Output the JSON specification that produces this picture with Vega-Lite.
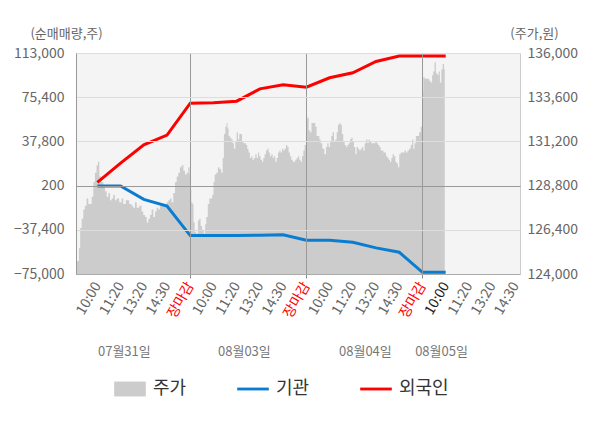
{
  "$schema": "https://vega.github.io/schema/vega-lite/v6.json",
  "width": 444,
  "height": 221,
  "autosize": "none",
  "padding": {"left": 76, "top": 53, "right": 80, "bottom": 154},
  "background": "white",
  "config": {
    "font": "Noto Sans CJK KR",
    "view": {"fill": "#f4f4f4", "stroke": null},
    "axis": {
      "labelFontSize": 14,
      "labelColor": "#666666",
      "titleFontSize": 13,
      "titleColor": "#666666",
      "titleFontWeight": "normal"
    }
  },
  "datasets": {
    "price": [
      {"t": 0.08, "price": 124700}, {"t": 0.19, "price": 124700}, {"t": 0.23, "price": 125400},
      {"t": 0.29, "price": 126500}, {"t": 0.36, "price": 127000}, {"t": 0.43, "price": 127500},
      {"t": 0.50, "price": 127700}, {"t": 0.57, "price": 128100}, {"t": 0.65, "price": 127800},
      {"t": 0.72, "price": 127800}, {"t": 0.79, "price": 128200}, {"t": 0.86, "price": 129000},
      {"t": 0.93, "price": 129500}, {"t": 1.00, "price": 129900}, {"t": 1.05, "price": 130100},
      {"t": 1.12, "price": 129300}, {"t": 1.22, "price": 129000}, {"t": 1.29, "price": 128800},
      {"t": 1.36, "price": 128500}, {"t": 1.44, "price": 128200}, {"t": 1.51, "price": 128400},
      {"t": 1.58, "price": 128000}, {"t": 1.65, "price": 128100}, {"t": 1.72, "price": 128300},
      {"t": 1.79, "price": 128000}, {"t": 1.87, "price": 128100}, {"t": 2.01, "price": 127900},
      {"t": 2.08, "price": 128100}, {"t": 2.15, "price": 127800}, {"t": 2.30, "price": 128000},
      {"t": 2.44, "price": 127800}, {"t": 2.51, "price": 127700}, {"t": 2.58, "price": 127600},
      {"t": 2.66, "price": 127900}, {"t": 2.73, "price": 127600}, {"t": 2.87, "price": 127700},
      {"t": 2.94, "price": 127400}, {"t": 3.01, "price": 127200}, {"t": 3.09, "price": 127100},
      {"t": 3.16, "price": 126800}, {"t": 3.23, "price": 127000}, {"t": 3.30, "price": 127200},
      {"t": 3.37, "price": 127500}, {"t": 3.45, "price": 127100}, {"t": 3.52, "price": 127400},
      {"t": 3.59, "price": 127600}, {"t": 3.66, "price": 127500}, {"t": 3.73, "price": 127700},
      {"t": 3.80, "price": 127800}, {"t": 3.88, "price": 127700}, {"t": 3.95, "price": 127800},
      {"t": 4.02, "price": 127900}, {"t": 4.09, "price": 128000}, {"t": 4.16, "price": 128100},
      {"t": 4.23, "price": 127900}, {"t": 4.31, "price": 128400}, {"t": 4.38, "price": 129000},
      {"t": 4.45, "price": 129300}, {"t": 4.52, "price": 129500}, {"t": 4.59, "price": 129800},
      {"t": 4.67, "price": 129900}, {"t": 4.74, "price": 129600}, {"t": 4.81, "price": 129400},
      {"t": 4.88, "price": 129500}, {"t": 4.95, "price": 129800}, {"t": 5.00, "price": 129400},
      {"t": 5.02, "price": 128600}, {"t": 5.07, "price": 127900}, {"t": 5.12, "price": 127800},
      {"t": 5.16, "price": 126800}, {"t": 5.22, "price": 126300}, {"t": 5.30, "price": 126200},
      {"t": 5.36, "price": 126900}, {"t": 5.42, "price": 127000}, {"t": 5.47, "price": 126600},
      {"t": 5.55, "price": 126400}, {"t": 5.62, "price": 126200}, {"t": 5.66, "price": 126700},
      {"t": 5.72, "price": 127100}, {"t": 5.79, "price": 127800}, {"t": 5.85, "price": 128100},
      {"t": 5.91, "price": 128100}, {"t": 5.98, "price": 128300}, {"t": 6.02, "price": 129000},
      {"t": 6.08, "price": 129400}, {"t": 6.16, "price": 129500}, {"t": 6.22, "price": 129800},
      {"t": 6.29, "price": 129700}, {"t": 6.37, "price": 129500}, {"t": 6.42, "price": 130300},
      {"t": 6.48, "price": 131600}, {"t": 6.54, "price": 132000}, {"t": 6.59, "price": 132200},
      {"t": 6.62, "price": 131900}, {"t": 6.68, "price": 131500}, {"t": 6.74, "price": 131400},
      {"t": 6.80, "price": 131300}, {"t": 6.85, "price": 131100}, {"t": 6.91, "price": 130800},
      {"t": 6.97, "price": 131200}, {"t": 7.03, "price": 131700}, {"t": 7.08, "price": 131300},
      {"t": 7.14, "price": 131600}, {"t": 7.20, "price": 131600}, {"t": 7.26, "price": 131200},
      {"t": 7.31, "price": 131100}, {"t": 7.37, "price": 131100}, {"t": 7.43, "price": 131000},
      {"t": 7.48, "price": 130800}, {"t": 7.54, "price": 130600}, {"t": 7.60, "price": 130300},
      {"t": 7.66, "price": 130400}, {"t": 7.71, "price": 130200}, {"t": 7.77, "price": 130300},
      {"t": 7.83, "price": 130500}, {"t": 7.89, "price": 130300}, {"t": 7.94, "price": 130600},
      {"t": 8.00, "price": 130400}, {"t": 8.06, "price": 130200}, {"t": 8.12, "price": 130100},
      {"t": 8.17, "price": 130300}, {"t": 8.23, "price": 130500}, {"t": 8.29, "price": 130700},
      {"t": 8.35, "price": 130800}, {"t": 8.40, "price": 130600}, {"t": 8.46, "price": 130400},
      {"t": 8.52, "price": 130500}, {"t": 8.58, "price": 130300}, {"t": 8.63, "price": 130400},
      {"t": 8.69, "price": 130100}, {"t": 8.75, "price": 130300}, {"t": 8.81, "price": 130600},
      {"t": 8.86, "price": 130700}, {"t": 8.92, "price": 130600}, {"t": 8.98, "price": 130800},
      {"t": 9.03, "price": 130700}, {"t": 9.09, "price": 130800}, {"t": 9.15, "price": 131000},
      {"t": 9.21, "price": 130900}, {"t": 9.26, "price": 130600}, {"t": 9.32, "price": 130400},
      {"t": 9.38, "price": 130200}, {"t": 9.44, "price": 130100}, {"t": 9.49, "price": 130100},
      {"t": 9.55, "price": 130200}, {"t": 9.61, "price": 130300}, {"t": 9.67, "price": 130400},
      {"t": 9.72, "price": 130200}, {"t": 9.78, "price": 130100}, {"t": 9.84, "price": 130400},
      {"t": 9.90, "price": 130700}, {"t": 9.95, "price": 131000}, {"t": 10.00, "price": 131000},
      {"t": 10.01, "price": 132400}, {"t": 10.07, "price": 132500}, {"t": 10.13, "price": 131800},
      {"t": 10.18, "price": 131700}, {"t": 10.26, "price": 132200}, {"t": 10.36, "price": 132200},
      {"t": 10.41, "price": 132000}, {"t": 10.47, "price": 131500}, {"t": 10.53, "price": 131500},
      {"t": 10.59, "price": 131300}, {"t": 10.64, "price": 131100}, {"t": 10.73, "price": 130800},
      {"t": 10.82, "price": 130500}, {"t": 10.87, "price": 130900}, {"t": 10.93, "price": 131100},
      {"t": 10.99, "price": 130900}, {"t": 11.05, "price": 131200}, {"t": 11.10, "price": 131500},
      {"t": 11.16, "price": 131700}, {"t": 11.22, "price": 131200}, {"t": 11.28, "price": 131300},
      {"t": 11.33, "price": 131700}, {"t": 11.39, "price": 132100}, {"t": 11.45, "price": 132200},
      {"t": 11.50, "price": 132100}, {"t": 11.56, "price": 131600}, {"t": 11.62, "price": 131200},
      {"t": 11.68, "price": 131000}, {"t": 11.73, "price": 130900}, {"t": 11.79, "price": 131000},
      {"t": 11.85, "price": 131100}, {"t": 11.91, "price": 131300}, {"t": 11.96, "price": 131400},
      {"t": 12.02, "price": 131200}, {"t": 12.08, "price": 130900}, {"t": 12.14, "price": 130500},
      {"t": 12.19, "price": 130900}, {"t": 12.25, "price": 130800}, {"t": 12.31, "price": 130700},
      {"t": 12.37, "price": 130800}, {"t": 12.42, "price": 130900}, {"t": 12.48, "price": 130700},
      {"t": 12.54, "price": 131100}, {"t": 12.60, "price": 131300}, {"t": 12.65, "price": 131100},
      {"t": 12.71, "price": 131300}, {"t": 12.77, "price": 131200}, {"t": 12.83, "price": 131100},
      {"t": 12.88, "price": 131100}, {"t": 12.94, "price": 131100}, {"t": 13.00, "price": 131200},
      {"t": 13.06, "price": 131100}, {"t": 13.11, "price": 131000}, {"t": 13.17, "price": 130900},
      {"t": 13.23, "price": 130700}, {"t": 13.29, "price": 130700}, {"t": 13.34, "price": 130600},
      {"t": 13.40, "price": 130600}, {"t": 13.46, "price": 130400}, {"t": 13.52, "price": 130300},
      {"t": 13.57, "price": 130200}, {"t": 13.63, "price": 130100}, {"t": 13.69, "price": 130300},
      {"t": 13.74, "price": 130500}, {"t": 13.80, "price": 130400}, {"t": 13.86, "price": 130100},
      {"t": 13.92, "price": 130000}, {"t": 13.97, "price": 129800}, {"t": 14.03, "price": 130500},
      {"t": 14.09, "price": 130600}, {"t": 14.15, "price": 130600}, {"t": 14.20, "price": 130600},
      {"t": 14.26, "price": 130700}, {"t": 14.32, "price": 130600}, {"t": 14.39, "price": 130700},
      {"t": 14.46, "price": 130800}, {"t": 14.53, "price": 131000}, {"t": 14.58, "price": 131300},
      {"t": 14.63, "price": 130800}, {"t": 14.68, "price": 131100}, {"t": 14.75, "price": 131500},
      {"t": 14.82, "price": 131500}, {"t": 14.89, "price": 131700}, {"t": 14.96, "price": 132000},
      {"t": 15.00, "price": 132100}, {"t": 15.01, "price": 133900}, {"t": 15.06, "price": 134700},
      {"t": 15.12, "price": 134600}, {"t": 15.18, "price": 134600}, {"t": 15.25, "price": 134600},
      {"t": 15.32, "price": 134500}, {"t": 15.39, "price": 134400}, {"t": 15.44, "price": 134800},
      {"t": 15.49, "price": 135000}, {"t": 15.55, "price": 135500}, {"t": 15.61, "price": 134900},
      {"t": 15.67, "price": 134800}, {"t": 15.72, "price": 135000}, {"t": 15.78, "price": 134400},
      {"t": 15.84, "price": 135100}, {"t": 15.90, "price": 135400}, {"t": 15.96, "price": 135100}
    ],
    "flow": [
      {"t": 1, "series": "기관", "value": -100},
      {"t": 2, "series": "기관", "value": -100},
      {"t": 3, "series": "기관", "value": -11500},
      {"t": 4, "series": "기관", "value": -17200},
      {"t": 5, "series": "기관", "value": -42300},
      {"t": 6, "series": "기관", "value": -42300},
      {"t": 7, "series": "기관", "value": -42200},
      {"t": 8, "series": "기관", "value": -42100},
      {"t": 9, "series": "기관", "value": -41700},
      {"t": 10, "series": "기관", "value": -46300},
      {"t": 11, "series": "기관", "value": -46300},
      {"t": 12, "series": "기관", "value": -48000},
      {"t": 13, "series": "기관", "value": -52800},
      {"t": 14, "series": "기관", "value": -56500},
      {"t": 15, "series": "기관", "value": -73600},
      {"t": 16, "series": "기관", "value": -73600},
      {"t": 1, "series": "외국인", "value": 3000},
      {"t": 2, "series": "외국인", "value": 19300},
      {"t": 3, "series": "외국인", "value": 34900},
      {"t": 4, "series": "외국인", "value": 43200},
      {"t": 5, "series": "외국인", "value": 70300},
      {"t": 6, "series": "외국인", "value": 70600},
      {"t": 7, "series": "외국인", "value": 72000},
      {"t": 8, "series": "외국인", "value": 82500},
      {"t": 9, "series": "외국인", "value": 85900},
      {"t": 10, "series": "외국인", "value": 83900},
      {"t": 11, "series": "외국인", "value": 91900},
      {"t": 12, "series": "외국인", "value": 96200},
      {"t": 13, "series": "외국인", "value": 105800},
      {"t": 14, "series": "외국인", "value": 110400},
      {"t": 15, "series": "외국인", "value": 110400},
      {"t": 16, "series": "외국인", "value": 110400}
    ]
  },
  "layer": [
    {
      "data": {"name": "price"},
      "mark": {"type": "area", "interpolate": "step"},
      "encoding": {
        "x": {
          "field": "t",
          "type": "quantitative",
          "scale": {"domain": [0.08, 19.2], "nice": false, "zero": false},
          "axis": {
            "orient": "bottom",
            "title": null,
            "values": [2.14, 7.31, 12.52, 15.8],
            "labelExpr": "datum.value < 5 ? '07월31일' : datum.value < 10 ? '08월03일' : datum.value < 13 ? '08월04일' : '08월05일'",
            "labelAngle": 0,
            "labelAlign": "center",
            "labelBaseline": "top",
            "labelFontSize": 13,
            "labelColor": "#777777",
            "labelPadding": 0,
            "offset": 71,
            "domain": false,
            "ticks": false,
            "grid": false,
            "labelOverlap": false,
            "labelFlush": false
          }
        },
        "y": {
          "field": "price",
          "type": "quantitative",
          "scale": {"domain": [124000, 136000], "nice": false, "zero": false},
          "axis": {
            "orient": "right",
            "values": [124000, 126400, 128800, 131200, 133600, 136000],
            "format": ",.0f",
            "title": "(주가,원)",
            "titleAngle": 0,
            "titleX": 14,
            "titleY": -20,
            "titleAlign": "center",
            "titleBaseline": "middle",
            "ticks": false,
            "labelPadding": 7,
            "domainColor": "#cccccc",
            "grid": false
          }
        },
        "y2": {"datum": 124000},
        "color": {
          "datum": "주가",
          "type": "nominal",
          "title": null,
          "scale": {"domain": ["주가", "기관", "외국인"], "range": ["#cccccc", "#0a7dd0", "#ff0000"]},
          "legend": {
            "orient": "none",
            "legendX": 38,
            "legendY": 320,
            "direction": "horizontal",
            "title": null,
            "symbolSize": 1000,
            "labelFontSize": 18,
            "labelColor": "#333333",
            "labelOffset": 7,
            "columnPadding": 50,
            "encode": {
              "symbols": {
                "update": {
                  "shape": {"signal": "datum.label == '주가' ? 'M-1,-0.47H1V0.47H-1Z' : 'M-1,-0.09H1V0.09H-1Z'"},
                  "fill": {"signal": "scale('color', datum.value)"},
                  "strokeWidth": {"value": 0},
                  "opacity": {"value": 1}
                }
              }
            }
          }
        }
      }
    },
    {
      "data": {"name": "flow"},
      "mark": {"type": "line", "strokeWidth": 3},
      "encoding": {
        "x": {
          "field": "t",
          "type": "quantitative",
          "axis": {
            "orient": "bottom",
            "title": null,
            "values": [1, 2, 3, 4, 5, 6, 7, 8, 9, 10, 11, 12, 13, 14, 15, 16, 17, 18, 19],
            "labelExpr": "['10:00','11:20','13:20','14:30','장마감'][(datum.value - 1) % 5]",
            "labelAngle": -60,
            "labelPadding": 5,
            "labelOverlap": false,
            "labelFlush": false,
            "labelColor": {
              "condition": [
                {"test": "datum.value % 5 == 0", "value": "#ff0000"},
                {"test": "datum.value == 16", "value": "#222222"}
              ],
              "value": "#666666"
            },
            "ticks": true,
            "tickSize": 4,
            "tickColor": "#888888",
            "tickOpacity": {"condition": {"test": "datum.value % 5 == 0", "value": 1}, "value": 0},
            "grid": true,
            "gridColor": "#999999",
            "gridOpacity": {"condition": {"test": "datum.value % 5 == 0", "value": 1}, "value": 0},
            "domainColor": "#aaaaaa",
            "zindex": 1
          }
        },
        "y": {
          "field": "value",
          "type": "quantitative",
          "scale": {"domain": [-75000, 113000], "nice": false, "zero": false},
          "axis": {
            "orient": "left",
            "values": [-75000, -37400, 200, 37800, 75400, 113000],
            "format": ",.0f",
            "title": "(순매매량,주)",
            "titleAngle": 0,
            "titleX": -10,
            "titleY": -20,
            "titleAlign": "center",
            "titleBaseline": "middle",
            "ticks": false,
            "labelPadding": 12,
            "domainColor": "#999999",
            "grid": true,
            "gridColor": {"condition": {"test": "datum.value == 200", "value": "#999999"}, "value": "#dddddd"},
            "zindex": 1
          }
        },
        "color": {"field": "series", "type": "nominal", "title": null}
      }
    }
  ],
  "resolve": {"scale": {"y": "independent"}, "axis": {"x": "independent"}}
}
